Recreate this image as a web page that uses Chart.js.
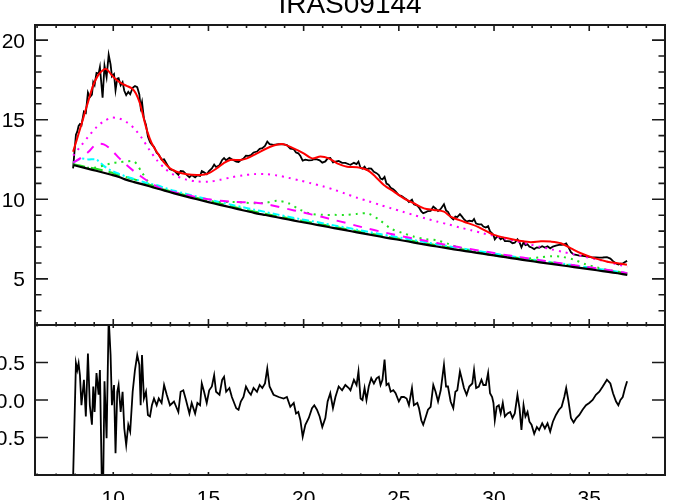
<!DOCTYPE html>
<html>
<head>
<meta charset="utf-8">
<script src="https://cdn.jsdelivr.net/npm/chart.js@4.4.1/dist/chart.umd.min.js"></script>
<style>
  html, body { margin: 0; padding: 0; background: #fff; overflow: hidden; }
  #wrap { position: relative; width: 700px; height: 500px; }
  #wrap canvas { position: absolute; left: 0; top: 0; }
</style>
</head>
<body>
<div id="wrap">
  <canvas id="chart-top" width="700" height="500"></canvas>
  <canvas id="chart-bottom" width="700" height="500"></canvas>
</div>
<script>
// observed spectrum (wavelength, flux) and fit residual on the same grid
const specWave = [
  7.89, 8.04, 8.11, 8.18, 8.25, 8.33, 8.46, 8.56, 8.67, 8.77,
  8.88, 8.95, 9.02, 9.12, 9.23, 9.30, 9.44, 9.54, 9.65, 9.76,
  9.86, 9.93, 10.04, 10.12, 10.21, 10.28, 10.39, 10.49, 10.58, 10.68,
  10.79, 10.89, 11.02, 11.14, 11.26, 11.37, 11.44, 11.51, 11.61, 11.72,
  11.82, 11.93, 12.03, 12.14, 12.28, 12.39, 12.54, 12.67, 12.81, 12.98,
  13.19, 13.42, 13.54, 13.68, 13.82, 14.00, 14.12, 14.30, 14.42, 14.56,
  14.65, 14.77, 14.91, 15.04, 15.18, 15.30, 15.40, 15.58, 15.72, 15.82,
  15.93, 16.10, 16.23, 16.46, 16.58, 16.70, 16.84, 16.97, 17.11, 17.23,
  17.37, 17.55, 17.69, 17.83, 17.97, 18.09, 18.21, 18.42, 18.69, 18.95,
  19.12, 19.30, 19.48, 19.60, 19.72, 19.83, 19.95, 20.09, 20.27, 20.44,
  20.56, 20.70, 20.84, 20.98, 21.14, 21.26, 21.40, 21.54, 21.67, 21.84,
  22.02, 22.19, 22.37, 22.46, 22.64, 22.78, 22.88, 22.99, 23.09, 23.20,
  23.30, 23.42, 23.55, 23.69, 23.83, 23.95, 24.04, 24.14, 24.25, 24.35,
  24.46, 24.57, 24.71, 24.83, 25.00, 25.13, 25.27, 25.41, 25.53, 25.69,
  25.79, 25.97, 26.06, 26.18, 26.28, 26.42, 26.53, 26.67, 26.81, 26.93,
  27.06, 27.20, 27.37, 27.48, 27.58, 27.72, 27.86, 27.97, 28.07, 28.21,
  28.32, 28.42, 28.56, 28.70, 28.86, 28.95, 29.06, 29.20, 29.34, 29.44,
  29.57, 29.69, 29.79, 29.90, 29.97, 30.04, 30.14, 30.25, 30.35, 30.46,
  30.57, 30.71, 30.85, 30.97, 31.09, 31.23, 31.34, 31.44, 31.55, 31.65,
  31.76, 31.86, 31.97, 32.11, 32.25, 32.37, 32.53, 32.67, 32.81, 32.95,
  33.09, 33.25, 33.41, 33.55, 33.69, 33.79, 33.90, 34.04, 34.18, 34.32,
  34.48, 34.65, 34.83, 35.00, 35.18, 35.35, 35.53, 35.71, 35.93, 36.11,
  36.25, 36.41, 36.53, 36.64, 36.76, 36.88, 36.99
];
const specFlux = [
  11.94, 14.06, 14.25, 14.61, 14.73, 14.65, 15.51, 15.43, 16.71, 16.41,
  16.57, 17.35, 17.18, 17.94, 17.89, 18.31, 16.38, 18.39, 17.67, 19.08,
  18.48, 17.72, 17.86, 16.85, 17.58, 17.61, 17.16, 17.36, 16.82, 16.54,
  16.75, 16.60, 17.01, 17.12, 17.04, 16.59, 15.77, 16.12, 15.08, 14.67,
  13.95, 13.59, 13.43, 13.30, 12.92, 12.81, 12.48, 12.51, 12.22, 11.88,
  11.80, 11.54, 11.78, 11.75, 11.58, 11.38, 11.52, 11.37, 11.50, 11.46,
  11.77, 11.69, 11.57, 11.79, 11.94, 12.18, 12.03, 12.14, 12.47, 12.59,
  12.45, 12.61, 12.51, 12.36, 12.34, 12.46, 12.56, 12.74, 12.73, 12.77,
  12.94, 13.00, 13.17, 13.21, 13.35, 13.63, 13.46, 13.42, 13.46, 13.45,
  13.40, 13.18, 13.15, 12.94, 12.89, 12.72, 12.43, 12.49, 12.45, 12.46,
  12.53, 12.51, 12.45, 12.30, 12.38, 12.57, 12.60, 12.31, 12.36, 12.41,
  12.29, 12.29, 12.20, 12.17, 12.29, 12.21, 12.37, 11.97, 11.92, 12.05,
  11.85, 11.94, 11.92, 11.72, 11.64, 11.52, 11.30, 11.25, 11.41, 10.99,
  10.92, 10.72, 10.63, 10.50, 10.25, 10.21, 10.09, 9.99, 9.83, 9.97,
  9.68, 9.60, 9.48, 9.24, 9.12, 9.19, 9.26, 9.27, 9.54, 9.42,
  9.26, 9.39, 9.69, 9.30, 9.21, 8.89, 8.74, 8.91, 8.88, 9.07,
  8.91, 8.75, 8.60, 8.65, 8.62, 8.76, 8.47, 8.42, 8.42, 8.29,
  8.22, 8.31, 7.98, 7.86, 7.74, 7.48, 7.63, 7.62, 7.48, 7.58,
  7.37, 7.37, 7.35, 7.24, 7.27, 7.49, 7.29, 6.98, 7.29, 7.12,
  7.17, 7.02, 6.97, 6.87, 6.98, 6.95, 7.05, 6.97, 7.04, 6.92,
  7.03, 7.09, 7.13, 7.13, 7.17, 7.23, 7.01, 6.68, 6.54, 6.51,
  6.46, 6.44, 6.42, 6.38, 6.34, 6.34, 6.33, 6.34, 6.36, 6.27,
  6.11, 5.97, 5.90, 5.95, 5.96, 6.06, 6.13
];
const residual = [
  -1.05, 0.49, 0.40, 0.49, 0.33, -0.07, 0.27, -0.22, 0.62, -0.07,
  -0.33, 0.18, -0.16, 0.36, 0.07, 0.40, -1.70, 0.25, -0.51, 1.10,
  0.60, -0.07, 0.20, -0.71, 0.11, 0.20, -0.16, 0.11, -0.38, -0.60,
  -0.33, -0.42, 0.11, 0.40, 0.60, 0.47, -0.07, 0.60, 0.02, 0.11,
  -0.20, -0.22, -0.07, 0.02, -0.07, 0.02, -0.04, 0.20, 0.07, -0.07,
  -0.02, -0.16, 0.11, 0.13, 0.00, -0.18, -0.04, -0.18, -0.04, -0.07,
  0.22, 0.11, -0.04, 0.13, 0.18, 0.33, 0.11, 0.07, 0.27, 0.31,
  0.11, 0.16, 0.04, -0.11, -0.13, -0.02, 0.04, 0.18, 0.11, 0.07,
  0.16, 0.11, 0.20, 0.16, 0.22, 0.42, 0.18, 0.07, 0.04, 0.02,
  0.04, -0.09, -0.04, -0.18, -0.16, -0.27, -0.49, -0.33, -0.24, -0.11,
  -0.07, -0.13, -0.22, -0.36, -0.24, -0.02, 0.09, -0.11, 0.04, 0.18,
  0.13, 0.20, 0.16, 0.13, 0.27, 0.20, 0.38, 0.02, 0.00, 0.16,
  0.00, 0.18, 0.29, 0.22, 0.29, 0.31, 0.20, 0.27, 0.54, 0.20,
  0.22, 0.11, 0.13, 0.09, -0.02, 0.04, 0.04, 0.02, -0.07, 0.16,
  -0.07, -0.04, -0.11, -0.27, -0.33, -0.22, -0.13, -0.09, 0.20, 0.11,
  -0.02, 0.13, 0.47, 0.18, 0.18, -0.02, -0.11, 0.11, 0.13, 0.38,
  0.27, 0.16, 0.07, 0.18, 0.22, 0.40, 0.16, 0.18, 0.27, 0.20,
  0.20, 0.36, 0.09, 0.04, -0.04, -0.27, -0.09, -0.07, -0.18, -0.04,
  -0.22, -0.18, -0.16, -0.24, -0.18, 0.07, -0.11, -0.40, -0.07, -0.22,
  -0.16, -0.29, -0.33, -0.45, -0.36, -0.40, -0.31, -0.38, -0.31, -0.42,
  -0.29, -0.20, -0.13, -0.09, 0.04, 0.16, 0.00, -0.24, -0.30, -0.24,
  -0.20, -0.13, -0.07, -0.04, 0.00, 0.07, 0.11, 0.18, 0.27, 0.22,
  0.09, -0.02, -0.07, 0.00, 0.04, 0.16, 0.25
];

// total model fit (red)
const fitWave = [7.89, 8.16, 8.42, 8.68, 8.95, 9.21, 9.47, 9.65, 9.92, 10.18,
  10.44, 10.70, 10.97, 11.19, 11.40, 11.58, 11.79, 12.02, 12.28, 12.63,
  12.98, 13.33, 13.86, 14.56, 15.00, 15.44, 15.79, 16.14, 16.67, 17.02,
  17.55, 18.25, 18.86, 19.47, 20.00, 20.44, 20.88, 21.32, 21.76, 22.28,
  22.81, 23.34, 23.77, 24.21, 24.74, 25.26, 25.79, 26.32, 26.84, 27.37,
  27.72, 28.42, 29.13, 30.00, 30.70, 31.41, 31.93, 32.46, 32.98, 33.51,
  34.04, 34.56, 35.26, 35.96, 36.49, 36.98];
const fitFlux = [12.99, 14.04, 15.08, 16.13, 17.17, 17.80, 18.12, 18.18, 17.80, 17.49,
  17.28, 17.13, 16.97, 16.65, 16.03, 15.19, 14.25, 13.52, 12.99, 12.36,
  11.95, 11.73, 11.57, 11.53, 11.63, 11.95, 12.26, 12.47, 12.47, 12.57,
  12.89, 13.30, 13.47, 13.20, 12.89, 12.57, 12.68, 12.57, 12.26, 12.05,
  12.01, 11.84, 11.42, 10.90, 10.48, 10.06, 9.75, 9.43, 9.33, 9.22,
  8.91, 8.59, 8.28, 7.76, 7.55, 7.38, 7.30, 7.36, 7.34, 7.24,
  6.92, 6.61, 6.30, 6.08, 5.98, 5.88];

// component curves share one wavelength grid
const compWave = [7.9, 8.3, 8.7, 9.1, 9.5, 9.9, 10.3, 10.7, 11.1, 11.5,
  11.9, 12.3, 12.7, 13.2, 13.8, 14.4, 15.0, 15.6, 16.2, 16.8,
  17.4, 18.0, 18.6, 19.2, 19.8, 20.4, 21.0, 21.6, 22.2, 22.8,
  23.4, 24.0, 24.6, 25.2, 25.8, 26.4, 27.0, 27.6, 28.2, 28.8,
  29.4, 30.0, 30.6, 31.2, 31.8, 32.4, 33.0, 33.6, 34.2, 34.8,
  35.4, 36.0, 36.5, 37.0];
const continuum = [12.15, 12.03, 11.91, 11.79, 11.67, 11.54, 11.40, 11.22, 11.08, 10.95,
  10.82, 10.68, 10.54, 10.37, 10.18, 10.00, 9.82, 9.65, 9.48, 9.31,
  9.15, 9.01, 8.87, 8.73, 8.59, 8.46, 8.33, 8.19, 8.06, 7.92,
  7.79, 7.66, 7.53, 7.41, 7.28, 7.15, 7.03, 6.91, 6.80, 6.69,
  6.58, 6.47, 6.36, 6.25, 6.14, 6.04, 5.94, 5.84, 5.74, 5.64,
  5.54, 5.44, 5.35, 5.25];
const broadDotted = [12.75, 13.35, 13.95, 14.50, 14.90, 15.12, 15.08, 14.85, 14.45, 13.85,
  13.10, 12.45, 11.95, 11.52, 11.25, 11.12, 11.10, 11.22, 11.38, 11.50,
  11.58, 11.58, 11.50, 11.35, 11.18, 11.00, 10.82, 10.60, 10.35, 10.10,
  9.88, 9.65, 9.43, 9.22, 9.00, 8.80, 8.60, 8.42, 8.23, 8.05,
  7.87, 7.70, 7.52, 7.35, 7.18, 7.02, 6.86, 6.70, 6.54, 6.38,
  6.22, 6.06, 5.90, 5.76];
const magentaDashed = [12.30, 12.60, 12.98, 13.45, 13.45, 13.10, 12.60, 12.15, 11.75, 11.40,
  11.08, 10.80, 10.60, 10.45, 10.30, 10.12, 10.00, 9.90, 9.85, 9.82,
  9.80, 9.70, 9.55, 9.38, 9.22, 9.05, 8.88, 8.70, 8.52, 8.33,
  8.15, 7.98, 7.82, 7.67, 7.53, 7.39, 7.25, 7.11, 6.98, 6.86,
  6.74, 6.62, 6.50, 6.39, 6.28, 6.17, 6.06, 5.96, 5.86, 5.76,
  5.66, 5.55, 5.46, 5.36];
const greenDotted = [12.15, 12.05, 11.98, 12.00, 12.12, 12.26, 12.33, 12.38, 12.38, 11.70,
  11.00, 10.72, 10.56, 10.40, 10.22, 10.05, 9.90, 9.82, 9.83, 9.80,
  9.75, 9.78, 9.90, 9.75, 9.35, 9.08, 9.02, 9.02, 9.02, 9.08,
  9.10, 8.68, 8.15, 7.88, 7.65, 7.50, 7.42, 7.20, 6.95, 6.75,
  6.60, 6.48, 6.38, 6.30, 6.28, 6.35, 6.42, 6.38, 6.20, 5.92,
  5.72, 5.55, 5.45, 5.33];
const cyanDashDot = [12.30, 12.55, 12.50, 12.50, 12.10, 11.80, 11.60, 11.42, 11.27, 11.12,
  10.98, 10.88, 10.72, 10.53, 10.35, 10.17, 9.99, 9.82, 9.66, 9.50,
  9.35, 9.20, 9.05, 8.90, 8.76, 8.63, 8.50, 8.36, 8.23, 8.09,
  7.95, 7.82, 7.69, 7.56, 7.43, 7.30, 7.17, 7.05, 6.93, 6.82,
  6.70, 6.59, 6.48, 6.37, 6.26, 6.15, 6.05, 5.95, 5.85, 5.74,
  5.64, 5.54, 5.45, 5.35];
const greenDashed = [12.20, 12.10, 12.00, 11.92, 11.80, 11.68, 11.52, 11.38, 11.25, 11.10,
  10.92, 10.76, 10.60, 10.45, 10.26, 10.08, 9.90, 9.73, 9.56, 9.39,
  9.23, 9.09, 8.95, 8.81, 8.67, 8.54, 8.41, 8.27, 8.14, 8.00,
  7.87, 7.74, 7.61, 7.49, 7.36, 7.23, 7.11, 6.99, 6.88, 6.77,
  6.66, 6.55, 6.44, 6.33, 6.22, 6.12, 6.02, 5.92, 5.82, 5.72,
  5.62, 5.52, 5.43, 5.33];

// axis ticks
const xMajorTicks = [10, 15, 20, 25, 30, 35];
const xMinorTicks = [6, 7, 8, 9, 11, 12, 13, 14, 16, 17, 18, 19, 21, 22, 23, 24,
  26, 27, 28, 29, 31, 32, 33, 34, 36, 37, 38];
const fluxMajorTicks = [5, 10, 15, 20];
const fluxMinorTicks = [3, 4, 6, 7, 8, 9, 11, 12, 13, 14, 16, 17, 18, 19, 20];
const residTicks = [-0.5, 0, 0.5];
const residTickLabels = ['-0.5', '0.0', '0.5'];
const titleText = 'IRAS09144';

const pts = (xs, ys) => xs.map((v, i) => ({ x: v, y: ys[i] }));
const FONT = '"Liberation Sans", Arial, sans-serif';

// draws the IDL style box with inward ticks, using the chart's own scales
const frameAxes = {
    id: 'frameAxes',
    afterDatasetsDraw(chart, args, o) {
        const { ctx, chartArea: a } = chart;
        const sx = chart.scales.x, sy = chart.scales.y;
        ctx.save();
        ctx.strokeStyle = '#1a1a1a';
        ctx.lineWidth = 1.6;
        ctx.beginPath();
        const xt = (list, len) => list.forEach(v => {
            const px = sx.getPixelForValue(v);
            ctx.moveTo(px, a.top); ctx.lineTo(px, a.top + len);
            ctx.moveTo(px, a.bottom); ctx.lineTo(px, a.bottom - len);
        });
        const yt = (list, len) => list.forEach(v => {
            const py = sy.getPixelForValue(v);
            ctx.moveTo(a.left, py); ctx.lineTo(a.left + len, py);
            ctx.moveTo(a.right, py); ctx.lineTo(a.right - len, py);
        });
        xt(xMajorTicks, o.xLen);
        xt(xMinorTicks, o.xLen / 2);
        yt(o.yMajor, o.yLen);
        yt(o.yMinor, o.yLen / 2);
        ctx.stroke();

        ctx.lineWidth = 2;
        ctx.strokeRect(a.left, a.top, a.right - a.left, a.bottom - a.top);

        ctx.fillStyle = '#000';
        ctx.font = '21px ' + FONT;
        ctx.textAlign = 'right';
        ctx.textBaseline = 'alphabetic';
        o.yMajor.forEach((v, i) => {
            ctx.fillText(o.yLabels[i], a.left - 10, sy.getPixelForValue(v) + 7.5);
        });
        if (o.xLabels) {
            ctx.textAlign = 'center';
            xMajorTicks.forEach(v => ctx.fillText(String(v), sx.getPixelForValue(v), a.bottom + 29.5));
        }
        if (o.title) {
            ctx.textAlign = 'center';
            ctx.font = '28px ' + FONT;
            ctx.fillText(o.title, (a.left + a.right) / 2, 13);
        }
        ctx.restore();
    }
};

const baseOptions = (padding, yMin, yMax, frame) => ({
    responsive: false,
    animation: false,
    devicePixelRatio: 1,
    layout: { padding },
    elements: { point: { radius: 0 }, line: { borderCapStyle: 'butt' } },
    scales: {
        x: { type: 'linear', min: 5.89, max: 38.98, display: false },
        y: { type: 'linear', min: yMin, max: yMax, display: false }
    },
    plugins: { legend: { display: false }, tooltip: { enabled: false }, frameAxes: frame }
});

// upper panel: spectrum, fit and components
new Chart(document.getElementById('chart-top'), {
    type: 'line',
    data: {
        datasets: [
            { data: pts(fitWave, fitFlux), borderColor: '#ff0000', borderWidth: 2, tension: 0.3 },
            { data: pts(compWave, continuum), borderColor: '#000000', borderWidth: 2.2, tension: 0.3 },
            { data: pts(compWave, broadDotted), borderColor: '#ff00ff', borderWidth: 2, borderDash: [2, 5], tension: 0.3 },
            { data: pts(compWave, magentaDashed), borderColor: '#ff00ff', borderWidth: 2, borderDash: [9, 8], tension: 0.3 },
            { data: pts(compWave, greenDotted), borderColor: '#22e022', borderWidth: 2, borderDash: [2, 5], tension: 0.3 },
            { data: pts(compWave, cyanDashDot), borderColor: '#00ffff', borderWidth: 2, borderDash: [7, 3, 2, 3], tension: 0.3 },
            { data: pts(compWave, greenDashed), borderColor: '#22e022', borderWidth: 2, borderDash: [12, 6], tension: 0.3 },
            { data: pts(specWave, specFlux), borderColor: '#000000', borderWidth: 1.8, tension: 0 }
        ]
    },
    options: baseOptions({ left: 35, right: 35, top: 25, bottom: 175 }, 2.1, 20.95, {
        xLen: 6, yLen: 13,
        yMajor: fluxMajorTicks, yMinor: fluxMinorTicks,
        yLabels: fluxMajorTicks.map(String),
        xLabels: false, title: titleText
    }),
    plugins: [frameAxes]
});

// lower panel: residual
new Chart(document.getElementById('chart-bottom'), {
    type: 'line',
    data: {
        datasets: [
            { data: pts(specWave, residual), borderColor: '#000000', borderWidth: 1.8, tension: 0 }
        ]
    },
    options: baseOptions({ left: 35, right: 35, top: 325, bottom: 25 }, -1, 1, {
        xLen: 3, yLen: 13,
        yMajor: residTicks, yMinor: [],
        yLabels: residTickLabels,
        xLabels: true, title: null
    }),
    plugins: [frameAxes]
});
</script>
</body>
</html>
